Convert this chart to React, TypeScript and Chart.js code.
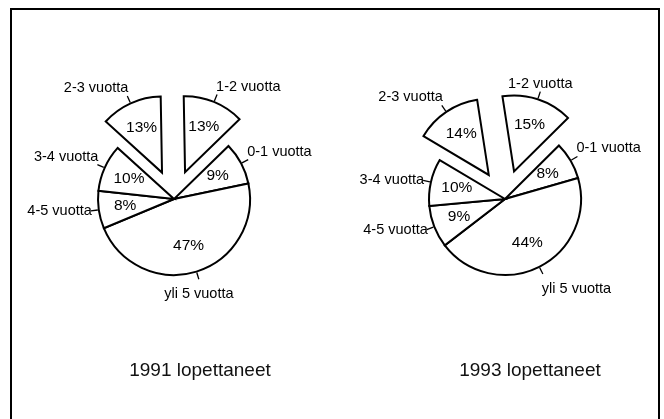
import React, { useEffect, useRef } from "react";
import { Chart, registerables, ArcElement } from "chart.js";

Chart.register(...registerables);

// ---- Data (clockwise order, starting at the top) ----
const categories = ["1-2 vuotta", "0-1 vuotta", "yli 5 vuotta", "4-5 vuotta", "3-4 vuotta", "2-3 vuotta"];
const values1991 = [13, 9, 47, 8, 10, 13];
const values1993 = [15, 8, 44, 9, 10, 14];
const explodedCategories = ["1-2 vuotta", "2-3 vuotta"];
const title1991 = "1991 lopettaneet";
const title1993 = "1993 lopettaneet";

// ---- Styling ----
const FONT = '"Liberation Sans", Arial, Helvetica, sans-serif';
const EXPLODE = 29;
const RADIUS = 76;

function makeDecorPlugin() {
  return {
    id: "pieDecor",
    beforeDatasetsDraw(chart: any) {
      const meta = chart.getDatasetMeta(0);
      const labels = chart.data.labels as string[];
      meta.data.forEach((el: any, i: number) => {
        if (!explodedCategories.includes(labels[i])) return;
        if (el.__patched) return;
        el.__patched = true;
        const orig = ArcElement.prototype.draw;
        el.draw = function (ctx: CanvasRenderingContext2D) {
          const mid = (this.startAngle + this.endAngle) / 2;
          ctx.save();
          ctx.translate(Math.cos(mid) * EXPLODE, Math.sin(mid) * EXPLODE);
          orig.call(this, ctx);
          ctx.restore();
        };
      });
    },
    afterDatasetsDraw(chart: any) {
      const ctx: CanvasRenderingContext2D = chart.ctx;
      const meta = chart.getDatasetMeta(0);
      const labels = chart.data.labels as string[];
      const values = chart.data.datasets[0].data as number[];
      ctx.save();
      ctx.fillStyle = "#000";
      ctx.strokeStyle = "#000";
      meta.data.forEach((el: any, i: number) => {
        const mid = (el.startAngle + el.endAngle) / 2;
        const c = Math.cos(mid);
        const s = Math.sin(mid);
        let cx = el.x;
        let cy = el.y;
        if (explodedCategories.includes(labels[i])) {
          cx += c * EXPLODE;
          cy += s * EXPLODE;
        }
        const r = el.outerRadius;
        // percent label
        ctx.font = `15.5px ${FONT}`;
        ctx.textAlign = "center";
        ctx.textBaseline = "middle";
        const pr = r * 0.65;
        ctx.fillText(`${values[i]}%`, cx + c * pr, cy + s * pr);
        // leader tick
        const r1 = r + 1;
        const r2 = r + 8;
        ctx.lineWidth = 1.3;
        ctx.beginPath();
        ctx.moveTo(cx + c * r1, cy + s * r1);
        ctx.lineTo(cx + c * r2, cy + s * r2);
        ctx.stroke();
        const tx = cx + c * r2;
        const ty = cy + s * r2;
        // category label
        ctx.font = `14.5px ${FONT}`;
        const up = -s;
        let x = tx;
        if (c > 0.35) {
          ctx.textAlign = "left";
          x = tx - 1;
        } else if (c < -0.35) {
          ctx.textAlign = "right";
          x = tx + 1;
        } else {
          ctx.textAlign = "center";
        }
        let y = ty;
        if (up > 0.38) {
          ctx.textBaseline = "alphabetic";
          y = ty - 4;
        } else if (up < -0.38) {
          ctx.textBaseline = "top";
          y = ty + 8;
        } else {
          ctx.textBaseline = "middle";
        }
        ctx.fillText(labels[i], x, y);
      });
      ctx.restore();
    },
  };
}

function PieCanvas(props: { values: number[]; rotation: number; left: number; padLeft: number; padRight: number }) {
  const ref = useRef<HTMLCanvasElement | null>(null);
  useEffect(() => {
    if (!ref.current) return;
    const chart = new Chart(ref.current, {
      type: "pie",
      data: {
        labels: categories,
        datasets: [
          {
            data: props.values,
            backgroundColor: "#ffffff",
            borderColor: "#000000",
            borderWidth: 2,
            borderJoinStyle: "miter",
          } as any,
        ],
      },
      options: {
        responsive: false,
        animation: false,
        events: [],
        rotation: props.rotation,
        radius: RADIUS,
        layout: { padding: { left: props.padLeft, right: props.padRight, top: 0, bottom: 21 } },
        plugins: {
          legend: { display: false },
          tooltip: { enabled: false },
          title: { display: false },
        },
      } as any,
      plugins: [makeDecorPlugin()],
    });
    return () => chart.destroy();
  }, []);
  return (
    <canvas
      ref={ref}
      width={332}
      height={419}
      style={{ position: "absolute", left: props.left, top: 0, width: 332, height: 419 }}
    />
  );
}

export default function App() {
  const titleStyle = (center: number): React.CSSProperties => ({
    position: "absolute",
    left: center - 120,
    width: 240,
    top: 360,
    textAlign: "center",
    fontFamily: FONT,
    fontSize: 19,
    lineHeight: "19px",
    color: "#111",
  });
  return (
    <div
      style={{
        position: "absolute",
        left: 0,
        top: 0,
        width: 664,
        height: 419,
        overflow: "hidden",
        background: "#fff",
      }}
    >
      <div
        style={{
          position: "absolute",
          left: 10,
          top: 8,
          width: 650,
          height: 440,
          border: "2px solid #000",
          boxSizing: "border-box",
        }}
      />
      <PieCanvas values={values1991} rotation={-1} left={0} padLeft={16} padRight={0} />
      <PieCanvas values={values1993} rotation={-8.8} left={332} padLeft={14} padRight={0} />
      <div style={titleStyle(200)}>{title1991}</div>
      <div style={titleStyle(530)}>{title1993}</div>
    </div>
  );
}
